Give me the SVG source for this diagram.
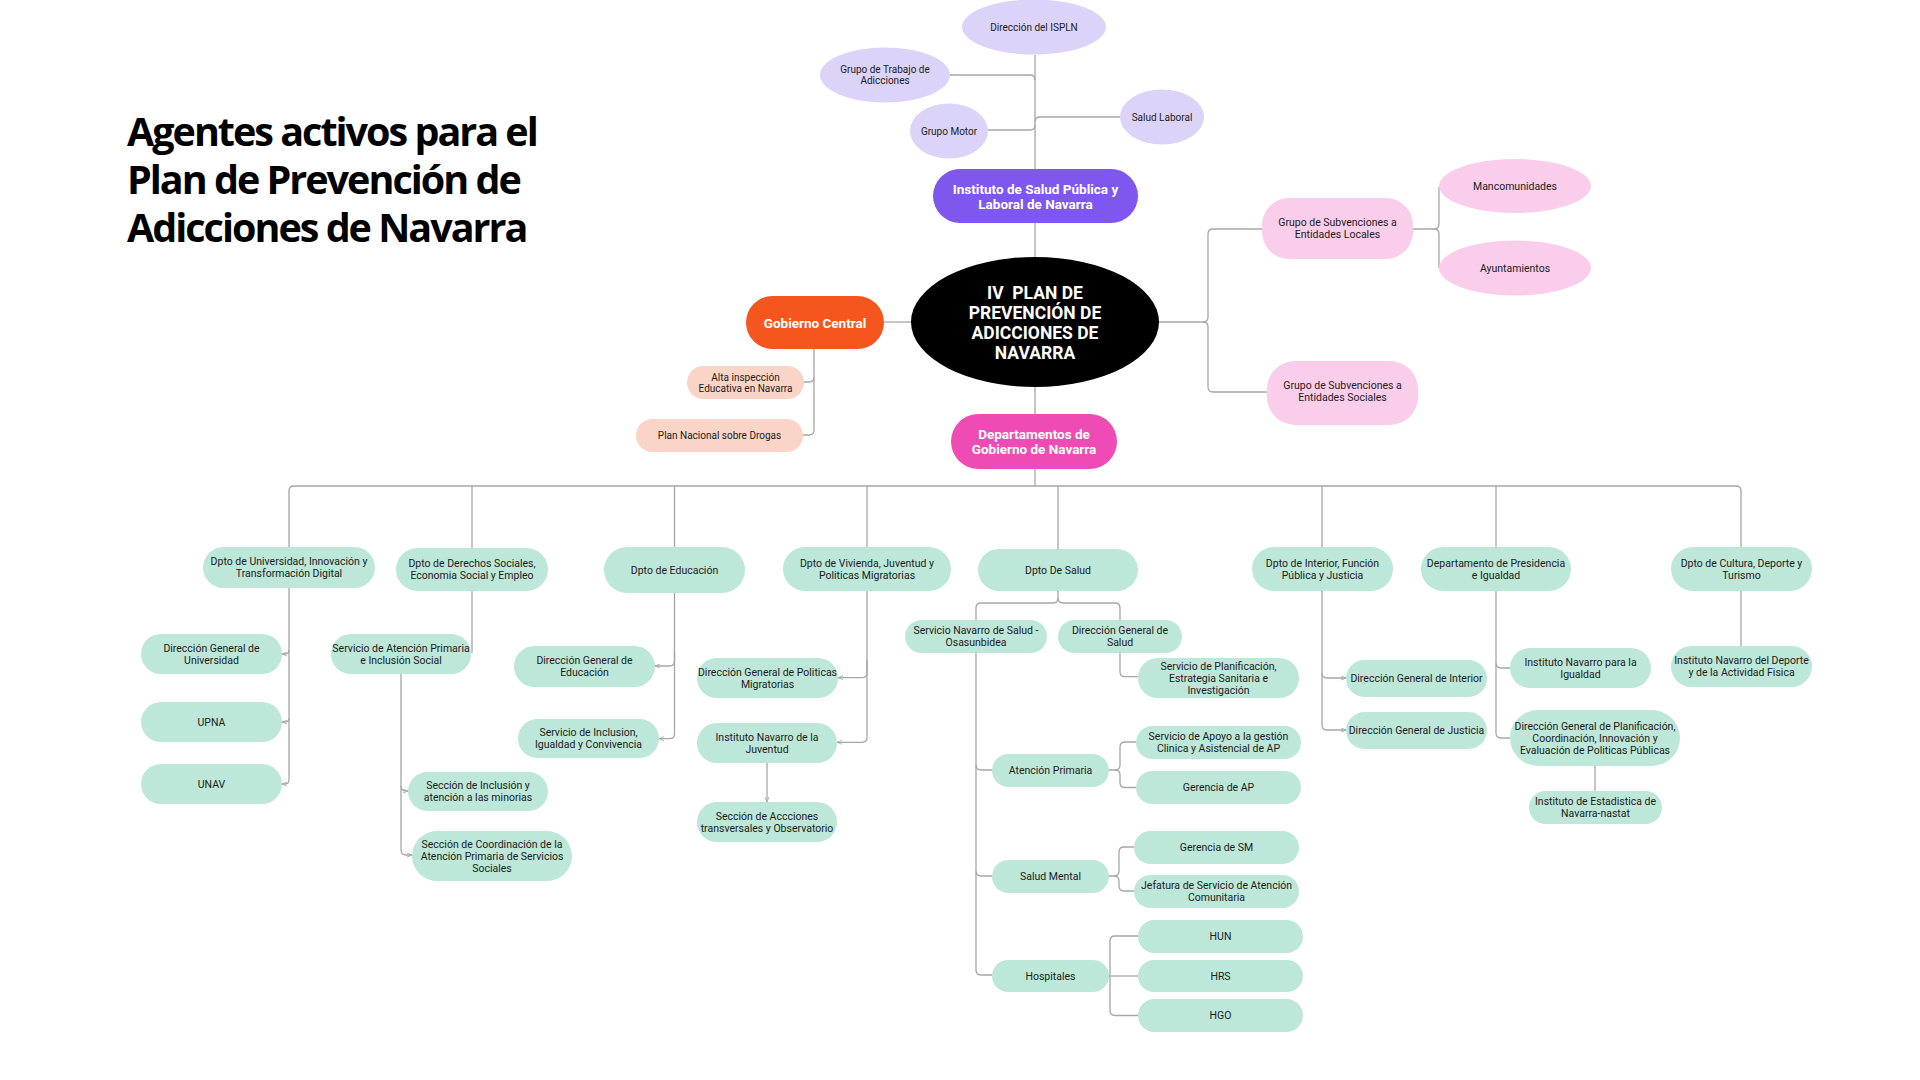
<svg xmlns="http://www.w3.org/2000/svg" width="1920" height="1080" viewBox="0 0 1920 1080">
<defs>
<style>
.bg{fill:#ffffff}
.ln{fill:none;stroke:#a6a6a6;stroke-width:1.3}
.ar{marker-end:url(#arr)}
.lav{fill:#dbd3f8}
.pur{fill:#7e57ef}
.pk{fill:#facdea}
.org{fill:#f4561e}
.pch{fill:#fad4c7}
.hpk{fill:#ee4cb4}
.mint{fill:#bde7d9}
.blk{fill:#000000}
text{font-family:Roboto,"Liberation Sans",sans-serif;text-anchor:middle;dominant-baseline:central}
.t{font-size:10.5px;fill:#1b1b1b}
.ts{font-size:10px;fill:#1b1b1b}
.tw{font-size:13.5px;font-weight:700;fill:#ffffff}
.tc{font-size:17.5px;font-weight:700;fill:#ffffff}
.title{font-family:"Open Sans","Noto Sans",sans-serif;font-size:39.5px;font-weight:700;letter-spacing:-2px;fill:#000000;text-anchor:start;dominant-baseline:auto}
</style>
<marker id="arr" viewBox="0 0 6 6" refX="6" refY="3" markerWidth="5" markerHeight="5" markerUnits="userSpaceOnUse" orient="auto">
<path d="M0,0.6 L6,3 L0,5.4" fill="none" stroke="#a6a6a6" stroke-width="1"/>
</marker>
</defs>
<rect class="bg" x="0" y="0" width="1920" height="1080"/>

<g id="title">
<text class="title" x="127" y="146">Agentes activos para el</text>
<text class="title" x="127" y="194">Plan de Prevención de</text>
<text class="title" x="127" y="242">Adicciones de Navarra</text>
</g>

<g id="connectors">
<path class="ln" d="M1035,55 V169"/>
<path class="ln" d="M950,75 H1030 Q1035,75 1035,80"/>
<path class="ln" d="M988,130 H1030 Q1035,130 1035,125"/>
<path class="ln" d="M1120,117 H1040 Q1035,117 1035,122"/>
<path class="ln" d="M1035,223 V258"/>
<path class="ln" d="M884,322 H912"/>
<path class="ln" d="M1159,322 H1203 Q1208,322 1208,317 V234 Q1208,229 1213,229 H1262"/>
<path class="ln" d="M1203,322 Q1208,322 1208,327 V387 Q1208,392 1213,392 H1267"/>
<path class="ln" d="M1413,229 H1434 Q1439,229 1439,224 V187"/>
<path class="ln" d="M1434,229 Q1439,229 1439,234 V268"/>
<path class="ln" d="M814,349 V430 Q814,435 809,435 H803"/>
<path class="ln" d="M814,377 Q814,382 809,382 H804"/>
<path class="ln" d="M1035,387 V414"/>
<path class="ln" d="M1035,469 V486"/>
<path class="ln" d="M289,547 V491 Q289,486 294,486 H1736 Q1741,486 1741,491 V547"/>
<path class="ln" d="M472,486 V548"/>
<path class="ln" d="M674.5,486 V547"/>
<path class="ln" d="M867,486 V547"/>
<path class="ln" d="M1058,486 V549"/>
<path class="ln" d="M1322,486 V547"/>
<path class="ln" d="M1496,486 V547"/>
<path class="ln ar" d="M289,588 V779 Q289,784 285,784 H282"/>
<path class="ln ar" d="M289,650 Q289,654 285,654 H282"/>
<path class="ln ar" d="M289,718 Q289,722 285,722 H282"/>
<path class="ln" d="M472,591 V653"/>
<path class="ln ar" d="M401,674 V850 Q401,855 406,855 H412"/>
<path class="ln ar" d="M401,786 Q401,791 406,791 H408"/>
<path class="ln ar" d="M674.5,593 V661 Q674.5,666 669.5,666 H655"/>
<path class="ln ar" d="M674.5,650 V733.7 Q674.5,738.7 669.5,738.7 H659"/>
<path class="ln ar" d="M867,591 V672.7 Q867,677.7 862,677.7 H838"/>
<path class="ln ar" d="M867,660 V737.3 Q867,742.3 862,742.3 H837"/>
<path class="ln ar" d="M767,763 V802"/>
<path class="ln" d="M1058,591 V598 Q1058,603 1053,603 H981 Q976,603 976,608 V620"/>
<path class="ln" d="M1058,598 Q1058,603 1063,603 H1115 Q1120,603 1120,608 V620"/>
<path class="ln" d="M976,653 V970 Q976,975 981,975 H992"/>
<path class="ln" d="M976,765 Q976,770 981,770 H992"/>
<path class="ln" d="M976,871 Q976,876 981,876 H992"/>
<path class="ln" d="M1120,653 V671.7 Q1120,676.7 1125,676.7 H1138"/>
<path class="ln" d="M1109,770 H1115 Q1120,770 1120,765 V747 Q1120,742 1125,742 H1136"/>
<path class="ln" d="M1115,770 Q1120,770 1120,775 V782.5 Q1120,787.5 1125,787.5 H1136"/>
<path class="ln" d="M1109,876 H1114 Q1119,876 1119,871 V852 Q1119,847 1124,847 H1134"/>
<path class="ln" d="M1114,876 Q1119,876 1119,881 V886 Q1119,891 1124,891 H1134"/>
<path class="ln" d="M1109,976 H1138"/>
<path class="ln" d="M1110,976 V941 Q1110,936 1115,936 H1138"/>
<path class="ln" d="M1110,976 V1010.5 Q1110,1015.5 1115,1015.5 H1138"/>
<path class="ln ar" d="M1322,591 V725 Q1322,730 1327,730 H1346"/>
<path class="ln ar" d="M1322,673 Q1322,678 1327,678 H1346"/>
<path class="ln" d="M1496,591 V733 Q1496,738 1501,738 H1510"/>
<path class="ln" d="M1496,663 Q1496,668 1501,668 H1510"/>
<path class="ln" d="M1595,766 V791"/>
<path class="ln" d="M1741,591 V646"/>
</g>

<g id="n-direccion-ispln"><ellipse class="lav" cx="1034" cy="27" rx="72" ry="27.5"/><text class="ts" x="1034" y="27">Dirección del ISPLN</text></g>
<g id="n-grupo-trabajo"><ellipse class="lav" cx="885" cy="75" rx="65" ry="27.5"/><text class="ts" x="885" y="69.5">Grupo de Trabajo de</text><text class="ts" x="885" y="80.5">Adicciones</text></g>
<g id="n-grupo-motor"><ellipse class="lav" cx="949" cy="131" rx="39" ry="27.5"/><text class="ts" x="949" y="131">Grupo Motor</text></g>
<g id="n-salud-laboral"><ellipse class="lav" cx="1162" cy="117" rx="42" ry="27.5"/><text class="ts" x="1162" y="117">Salud Laboral</text></g>
<g id="n-isplna"><rect class="pur" x="933" y="169" width="205" height="54" rx="27"/><text class="tw" x="1035.5" y="189">Instituto de Salud Pública y</text><text class="tw" x="1035.5" y="203.5">Laboral de Navarra</text></g>

<g id="n-plan"><ellipse class="blk" cx="1035" cy="322" rx="124" ry="65"/>
<text class="tc" x="1035" y="293">IV&#160; PLAN DE</text>
<text class="tc" x="1035" y="313">PREVENCIÓN DE</text>
<text class="tc" x="1035" y="333">ADICCIONES DE</text>
<text class="tc" x="1035" y="353">NAVARRA</text></g>

<g id="n-gobierno-central"><rect class="org" x="746" y="296" width="138" height="53" rx="26.5"/><text class="tw" x="815" y="322.5">Gobierno Central</text></g>
<g id="n-alta-inspeccion"><rect class="pch" x="687" y="366" width="117" height="33" rx="16.5"/><text class="ts" x="745.5" y="377">Alta inspección</text><text class="ts" x="745.5" y="388.5">Educativa en Navarra</text></g>
<g id="n-plan-nacional"><rect class="pch" x="636" y="419" width="167" height="33" rx="16.5"/><text class="ts" x="719.5" y="435.5">Plan Nacional sobre Drogas</text></g>

<g id="n-subv-locales"><rect class="pk" x="1262" y="198" width="151" height="61" rx="27"/><text class="t" x="1337.5" y="222.5">Grupo de Subvenciones a</text><text class="t" x="1337.5" y="234.5">Entidades Locales</text></g>
<g id="n-mancomunidades"><ellipse class="pk" cx="1515" cy="186" rx="76" ry="27"/><text class="t" x="1515" y="186">Mancomunidades</text></g>
<g id="n-ayuntamientos"><ellipse class="pk" cx="1515" cy="268" rx="76" ry="27.5"/><text class="t" x="1515" y="268">Ayuntamientos</text></g>
<g id="n-subv-sociales"><rect class="pk" x="1267" y="361" width="151" height="64" rx="28"/><text class="t" x="1342.5" y="385.5">Grupo de Subvenciones a</text><text class="t" x="1342.5" y="397.5">Entidades Sociales</text></g>

<g id="n-departamentos"><rect class="hpk" x="951" y="414" width="166" height="55" rx="27.5"/><text class="tw" x="1034" y="434">Departamentos de</text><text class="tw" x="1034" y="448.5">Gobierno de Navarra</text></g>

<g id="n-d-universidad"><rect class="mint" x="203" y="547" width="172" height="41" rx="20.5"/><text class="t" x="289" y="561.5">Dpto de Universidad, Innovación y</text><text class="t" x="289" y="573.5">Transformación Digital</text></g>
<g id="n-d-derechos"><rect class="mint" x="396" y="548" width="152" height="43" rx="21.5"/><text class="t" x="472" y="563.5">Dpto de Derechos Sociales,</text><text class="t" x="472" y="575.5">Economia Social y Empleo</text></g>
<g id="n-d-educacion"><rect class="mint" x="604" y="547" width="141" height="46" rx="23"/><text class="t" x="674.5" y="570">Dpto de Educación</text></g>
<g id="n-d-vivienda"><rect class="mint" x="783" y="547" width="168" height="44" rx="22"/><text class="t" x="867" y="563">Dpto de Vivienda, Juventud y</text><text class="t" x="867" y="575">Politicas Migratorias</text></g>
<g id="n-d-salud"><rect class="mint" x="978" y="549" width="160" height="42" rx="21"/><text class="t" x="1058" y="570">Dpto De Salud</text></g>
<g id="n-d-interior"><rect class="mint" x="1252" y="547" width="141" height="44" rx="22"/><text class="t" x="1322.5" y="563">Dpto de Interior, Función</text><text class="t" x="1322.5" y="575">Pública y Justicia</text></g>
<g id="n-d-presidencia"><rect class="mint" x="1421" y="547" width="150" height="44" rx="22"/><text class="t" x="1496" y="563">Departamento de Presidencia</text><text class="t" x="1496" y="575">e Igualdad</text></g>
<g id="n-d-cultura"><rect class="mint" x="1671" y="547" width="141" height="44" rx="22"/><text class="t" x="1741.5" y="563">Dpto de Cultura, Deporte y</text><text class="t" x="1741.5" y="575">Turismo</text></g>

<g id="n-dg-universidad"><rect class="mint" x="141" y="634" width="141" height="40" rx="20"/><text class="t" x="211.5" y="648">Dirección General de</text><text class="t" x="211.5" y="660">Universidad</text></g>
<g id="n-upna"><rect class="mint" x="141" y="702" width="141" height="40" rx="20"/><text class="t" x="211.5" y="722">UPNA</text></g>
<g id="n-unav"><rect class="mint" x="141" y="764" width="141" height="40" rx="20"/><text class="t" x="211.5" y="784">UNAV</text></g>

<g id="n-serv-atencion-primaria"><rect class="mint" x="331" y="634" width="140" height="40" rx="20"/><text class="t" x="401" y="648">Servicio de Atención Primaria</text><text class="t" x="401" y="660">e Inclusión Social</text></g>
<g id="n-secc-inclusion"><rect class="mint" x="408" y="772" width="140" height="39" rx="19.5"/><text class="t" x="478" y="785.5">Sección de Inclusión y</text><text class="t" x="478" y="797.5">atención a las minorias</text></g>
<g id="n-secc-coordinacion"><rect class="mint" x="412" y="831" width="160" height="50" rx="25"/><text class="t" x="492" y="844">Sección de Coordinación de la</text><text class="t" x="492" y="856">Atención Primaria de Servicios</text><text class="t" x="492" y="868">Sociales</text></g>

<g id="n-dg-educacion"><rect class="mint" x="514" y="646" width="141" height="41" rx="20.5"/><text class="t" x="584.5" y="660.5">Dirección General de</text><text class="t" x="584.5" y="672.5">Educación</text></g>
<g id="n-serv-inclusion"><rect class="mint" x="518" y="719" width="141" height="39" rx="19.5"/><text class="t" x="588.5" y="732.5">Servicio de Inclusion,</text><text class="t" x="588.5" y="744.5">Igualdad y Convivencia</text></g>

<g id="n-dg-migratorias"><rect class="mint" x="697" y="658" width="141" height="40" rx="20"/><text class="t" x="767.5" y="672">Dirección General de Politicas</text><text class="t" x="767.5" y="684">Migratorias</text></g>
<g id="n-inst-juventud"><rect class="mint" x="697" y="723" width="140" height="40" rx="20"/><text class="t" x="767" y="737">Instituto Navarro de la</text><text class="t" x="767" y="749">Juventud</text></g>
<g id="n-secc-acciones"><rect class="mint" x="697" y="802" width="140" height="40" rx="20"/><text class="t" x="767" y="816">Sección de Accciones</text><text class="t" x="767" y="828">transversales y Observatorio</text></g>

<g id="n-osasunbidea"><rect class="mint" x="905" y="620" width="142" height="33" rx="16.5"/><text class="t" x="976" y="630.5">Servicio Navarro de Salud -</text><text class="t" x="976" y="642.5">Osasunbidea</text></g>
<g id="n-dg-salud"><rect class="mint" x="1058" y="620" width="124" height="33" rx="16.5"/><text class="t" x="1120" y="630.5">Dirección General de</text><text class="t" x="1120" y="642.5">Salud</text></g>
<g id="n-serv-planificacion"><rect class="mint" x="1138" y="658" width="161" height="40" rx="20"/><text class="t" x="1218.5" y="666">Servicio de Planificación,</text><text class="t" x="1218.5" y="678">Estrategia Sanitaria e</text><text class="t" x="1218.5" y="690">Investigación</text></g>
<g id="n-atencion-primaria"><rect class="mint" x="992" y="754" width="117" height="33" rx="16.5"/><text class="t" x="1050.5" y="770.5">Atención Primaria</text></g>
<g id="n-serv-apoyo"><rect class="mint" x="1136" y="726" width="165" height="33" rx="16.5"/><text class="t" x="1218.5" y="736.5">Servicio de Apoyo a la gestión</text><text class="t" x="1218.5" y="748.5">Clinica y Asistencial de AP</text></g>
<g id="n-gerencia-ap"><rect class="mint" x="1136" y="771" width="165" height="33" rx="16.5"/><text class="t" x="1218.5" y="787.5">Gerencia de AP</text></g>
<g id="n-salud-mental"><rect class="mint" x="992" y="860" width="117" height="33" rx="16.5"/><text class="t" x="1050.5" y="876.5">Salud Mental</text></g>
<g id="n-gerencia-sm"><rect class="mint" x="1134" y="831" width="165" height="33" rx="16.5"/><text class="t" x="1216.5" y="847.5">Gerencia de SM</text></g>
<g id="n-jefatura"><rect class="mint" x="1134" y="875" width="165" height="33" rx="16.5"/><text class="t" x="1216.5" y="885.5">Jefatura de Servicio de Atención</text><text class="t" x="1216.5" y="897.5">Comunitaria</text></g>
<g id="n-hospitales"><rect class="mint" x="992" y="960" width="117" height="32" rx="16"/><text class="t" x="1050.5" y="976">Hospitales</text></g>
<g id="n-hun"><rect class="mint" x="1138" y="920" width="165" height="33" rx="16.5"/><text class="t" x="1220.5" y="936.5">HUN</text></g>
<g id="n-hrs"><rect class="mint" x="1138" y="960" width="165" height="32" rx="16"/><text class="t" x="1220.5" y="976">HRS</text></g>
<g id="n-hgo"><rect class="mint" x="1138" y="999" width="165" height="33" rx="16.5"/><text class="t" x="1220.5" y="1015.5">HGO</text></g>

<g id="n-dg-interior"><rect class="mint" x="1346" y="660" width="141" height="37" rx="18.5"/><text class="t" x="1416.5" y="678.5">Dirección General de Interior</text></g>
<g id="n-dg-justicia"><rect class="mint" x="1346" y="712" width="141" height="37" rx="18.5"/><text class="t" x="1416.5" y="730.5">Dirección General de Justicia</text></g>

<g id="n-inst-igualdad"><rect class="mint" x="1510" y="648" width="141" height="40" rx="20"/><text class="t" x="1580.5" y="662">Instituto Navarro para la</text><text class="t" x="1580.5" y="674">Igualdad</text></g>
<g id="n-dg-planificacion"><rect class="mint" x="1510" y="710" width="170" height="56" rx="28"/><text class="t" x="1595" y="726">Dirección General de Planificación,</text><text class="t" x="1595" y="738">Coordinación, Innovación y</text><text class="t" x="1595" y="750">Evaluación de Politicas Públicas</text></g>
<g id="n-inst-estadistica"><rect class="mint" x="1529" y="791" width="133" height="33" rx="16.5"/><text class="t" x="1595.5" y="801.5">Instituto de Estadistica de</text><text class="t" x="1595.5" y="813.5">Navarra-nastat</text></g>

<g id="n-inst-deporte"><rect class="mint" x="1671" y="646" width="141" height="41" rx="20.5"/><text class="t" x="1741.5" y="660.5">Instituto Navarro del Deporte</text><text class="t" x="1741.5" y="672.5">y de la Actividad Fisica</text></g>
</svg>
